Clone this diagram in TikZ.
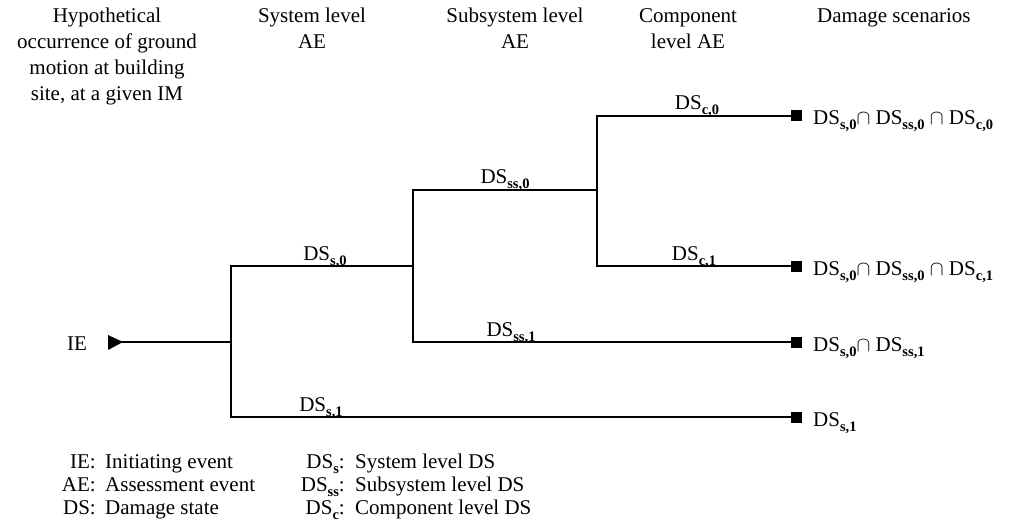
\documentclass[tikz,border=0pt]{standalone}
\usepackage{fontspec}
\setmainfont{Liberation Serif}
\newcommand{\sbx}[1]{\raisebox{-5pt}{\fontsize{14.5}{14.5}\selectfont\bfseries #1}}
\newcommand{\dsub}[1]{DS\sbx{#1}}
\begin{document}
\begin{tikzpicture}[x=1pt,y=-1pt,
  every node/.style={font=\fontsize{21}{26}\selectfont, inner sep=0pt},
  tree/.style={line width=2.8pt},
  endsq/.style={rectangle, fill=black, minimum size=11pt, inner sep=0pt},
  hdr/.style={align=center, anchor=north},
  lbl/.style={anchor=base},
  scen/.style={anchor=base west},
  leg/.style={anchor=base east},
  legd/.style={anchor=base west}]
\useasboundingbox (0,0) rectangle (1016,529);
% headers
\node[hdr] (h0) at (107,8) {Hypothetical\\occurrence of ground\\motion at building\\site, at a given IM};
\node[hdr] (h1) at (312,8) {System level\\AE};
\node[hdr] (h2) at (515,8) {Subsystem level\\AE};
\node[hdr] (h3) at (688,8) {Component\\level AE};
\node[anchor=north west] (h4) at (817,8) {Damage scenarios};
% IE
\node[anchor=base] (ie) at (77,350) {IE};
\fill (108,335) -- (123,342) -- (108,350) -- cycle;
\coordinate (tip) at (121,342);
% junctions
\coordinate (A) at (231,342);
\coordinate (A0) at (231,266);
\coordinate (A1) at (231,417);
\coordinate (B) at (413,266);
\coordinate (B0) at (413,190);
\coordinate (B1) at (413,342);
\coordinate (C) at (597,190);
\coordinate (C0) at (597,116);
\coordinate (C1) at (597,266);
% end squares
\node[endsq] (q1) at (796,116) {};
\node[endsq] (q2) at (796,266) {};
\node[endsq] (q3) at (796,342) {};
\node[endsq] (q4) at (796,417) {};
% tree
\draw[tree] (tip) -- (A);
\draw[tree] (B) -- (A0) -- (A1) -- (q4.center);
\draw[tree] (C) -- (B0) -- (B1) -- (q3.center);
\draw[tree] (q1.center) -- (C0) -- (C1) -- (q2.center);
% branch labels
\node[lbl] (l1) at (325,260) {\dsub{s,0}};
\node[lbl] (l2) at (321,411) {\dsub{s,1}};
\node[lbl] (l3) at (505,184) {\dsub{ss,0}};
\node[lbl] (l4) at (511,336) {\dsub{ss,1}};
\node[lbl] (l5) at (697,110) {\dsub{c,0}};
\node[lbl] (l6) at (694,260) {\dsub{c,1}};
% scenarios
\node[scen] (t1) at (813,125) {\dsub{s,0}$\cap$ \dsub{ss,0} $\cap$ \dsub{c,0}};
\node[scen] (t2) at (813,275) {\dsub{s,0}$\cap$ \dsub{ss,0} $\cap$ \dsub{c,1}};
\node[scen] (t3) at (813,351) {\dsub{s,0}$\cap$ \dsub{ss,1}};
\node[scen] (t4) at (813,426) {\dsub{s,1}};
% legend
\node[leg] (k1) at (96,468) {IE:};
\node[leg] (k2) at (96,491) {AE:};
\node[leg] (k3) at (96,514) {DS:};
\node[legd] (d1) at (105,468) {Initiating event};
\node[legd] (d2) at (105,491) {Assessment event};
\node[legd] (d3) at (105,514) {Damage state};
\node[leg] (k4) at (345,468) {DS\sbx{s}:};
\node[leg] (k5) at (345,491) {DS\sbx{ss}:};
\node[leg] (k6) at (345,514) {DS\sbx{c}:};
\node[legd] (d4) at (355,468) {System level DS};
\node[legd] (d5) at (355,491) {Subsystem level DS};
\node[legd] (d6) at (355,514) {Component level DS};
\end{tikzpicture}
\end{document}
